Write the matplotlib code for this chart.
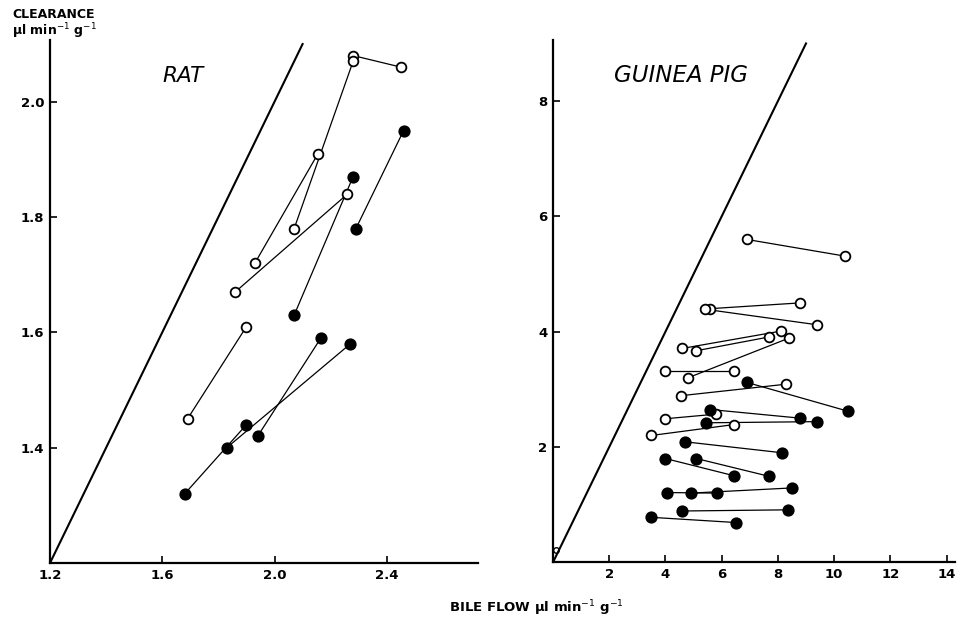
import matplotlib
matplotlib.use("Agg")
import matplotlib.pyplot as plt

# ---------------- data ----------------
# RAT: each entry is one pair of measurements joined by a line (bile flow, clearance)
rat_open_flow = [(2.28, 2.45), (2.28, 2.07), (2.155, 1.93), (2.26, 1.86), (1.69, 1.90)]
rat_open_clear = [(2.08, 2.06), (2.07, 1.78), (1.91, 1.72), (1.84, 1.67), (1.45, 1.61)]
rat_filled_flow = [(2.46, 2.29), (2.28, 2.07), (2.165, 1.94), (2.27, 1.83), (1.68, 1.90)]
rat_filled_clear = [(1.95, 1.78), (1.87, 1.63), (1.59, 1.42), (1.58, 1.40), (1.32, 1.44)]

# GUINEA PIG
gp_open_flow = [(6.9, 10.4), (8.8, 5.6), (5.4, 9.4), (8.1, 4.6), (7.7, 5.1),
                (8.4, 4.8), (4.0, 6.45), (4.55, 8.3), (5.8, 4.0), (6.45, 3.5)]
gp_open_clear = [(5.60, 5.31), (4.50, 4.40), (4.39, 4.12), (4.01, 3.71), (3.91, 3.67),
                 (3.89, 3.20), (3.31, 3.31), (2.89, 3.09), (2.57, 2.49), (2.39, 2.20)]
gp_filled_flow = [(6.9, 10.5), (5.6, 8.8), (5.45, 9.4), (4.7, 8.15), (4.0, 6.45),
                  (5.1, 7.7), (4.05, 5.85), (4.9, 8.5), (4.6, 8.35), (3.5, 6.5)]
gp_filled_clear = [(3.12, 2.62), (2.65, 2.50), (2.42, 2.44), (2.09, 1.90), (1.80, 1.50),
                   (1.80, 1.49), (1.21, 1.20), (1.20, 1.29), (0.89, 0.91), (0.78, 0.69)]
gp_origin_flow = [0.12]
gp_origin_clear = [0.22]

# identity lines (clearance = bile flow)
rat_identity = [1.2, 2.1]
gp_identity = [0.0, 9.0]

rat_xticks = [1.2, 1.6, 2.0, 2.4]
rat_xticklabels = ["1.2", "1.6", "2.0", "2.4"]
rat_yticks = [1.4, 1.6, 1.8, 2.0]
rat_yticklabels = ["1.4", "1.6", "1.8", "2.0"]
gp_xticks = [2, 4, 6, 8, 10, 12, 14]
gp_yticks = [2, 4, 6, 8]

# ---------------- figure ----------------
plt.rcParams['font.family'] = ['DejaVu Sans']
fig = plt.figure(figsize=(9.64, 6.21), dpi=100)
ax1 = fig.add_axes([50 / 964, 1 - 563 / 621, 428 / 964, 523 / 621])
ax2 = fig.add_axes([553 / 964, 1 - 562.3 / 621, 402 / 964, 522.3 / 621])
for ax in (ax1, ax2):
    ax.patch.set_alpha(0)


def draw_pairs(ax, xs, ys, filled, ms):
    for (xa, xb), (ya, yb) in zip(xs, ys):
        ax.plot([xa, xb], [ya, yb], color='black', lw=0.9, zorder=2, clip_on=False)
        ax.plot([xa, xb], [ya, yb], linestyle='none', marker='o', ms=ms,
                mfc='black' if filled else 'white', mec='black', mew=1.3, zorder=3,
                clip_on=False)


def style(ax):
    for s in ['top', 'right']:
        ax.spines[s].set_visible(False)
    for s in ['left', 'bottom']:
        ax.spines[s].set_linewidth(1.6)
    ax.tick_params(direction='in', length=5, width=1.2, labelsize=9.5, pad=4)
    for lab in ax.get_xticklabels() + ax.get_yticklabels():
        lab.set_fontweight('bold')


# RAT
ax1.plot(rat_identity, rat_identity, color='black', lw=1.5, zorder=1)
draw_pairs(ax1, rat_open_flow, rat_open_clear, False, 7)
draw_pairs(ax1, rat_filled_flow, rat_filled_clear, True, 7.5)
ax1.set_xlim(1.2, 2.725)
ax1.set_ylim(1.2, 2.107)
ax1.set_xticks(rat_xticks)
ax1.set_xticklabels(rat_xticklabels)
ax1.set_yticks(rat_yticks)
ax1.set_yticklabels(rat_yticklabels)
style(ax1)
ax1.text(0.262, 0.932, "RAT", transform=ax1.transAxes, fontsize=15.5,
         style='italic', ha='left', va='center')

# GUINEA PIG
ax2.plot(gp_identity, gp_identity, color='black', lw=1.5, zorder=1)
ax2.plot(gp_origin_flow, gp_origin_clear, linestyle='none', marker='o', ms=4,
         mfc='none', mec='black', mew=1.0, zorder=3)
draw_pairs(ax2, gp_open_flow, gp_open_clear, False, 7)
draw_pairs(ax2, gp_filled_flow, gp_filled_clear, True, 7.5)
ax2.set_xlim(0, 14.3)
ax2.set_ylim(0, 9.06)
ax2.set_xticks(gp_xticks)
ax2.set_yticks(gp_yticks)
style(ax2)
ax2.text(0.152, 0.932, "GUINEA PIG", transform=ax2.transAxes, fontsize=16.5,
         style='italic', ha='left', va='center')

# axis titles
fig.text(12 / 964, 1 - 14 / 621, "CLEARANCE", fontsize=9, fontweight='bold',
         ha='left', va='center')
fig.text(12 / 964, 1 - 31 / 621, "\u00b5l min$^{-1}$ g$^{-1}$", fontsize=9,
         fontweight='bold', ha='left', va='center')
fig.text(536 / 964, 1 - 608 / 621, "BILE FLOW \u00b5l min$^{-1}$ g$^{-1}$", fontsize=9.5,
         fontweight='bold', ha='center', va='center')

fig.savefig("out.png", dpi=100)
